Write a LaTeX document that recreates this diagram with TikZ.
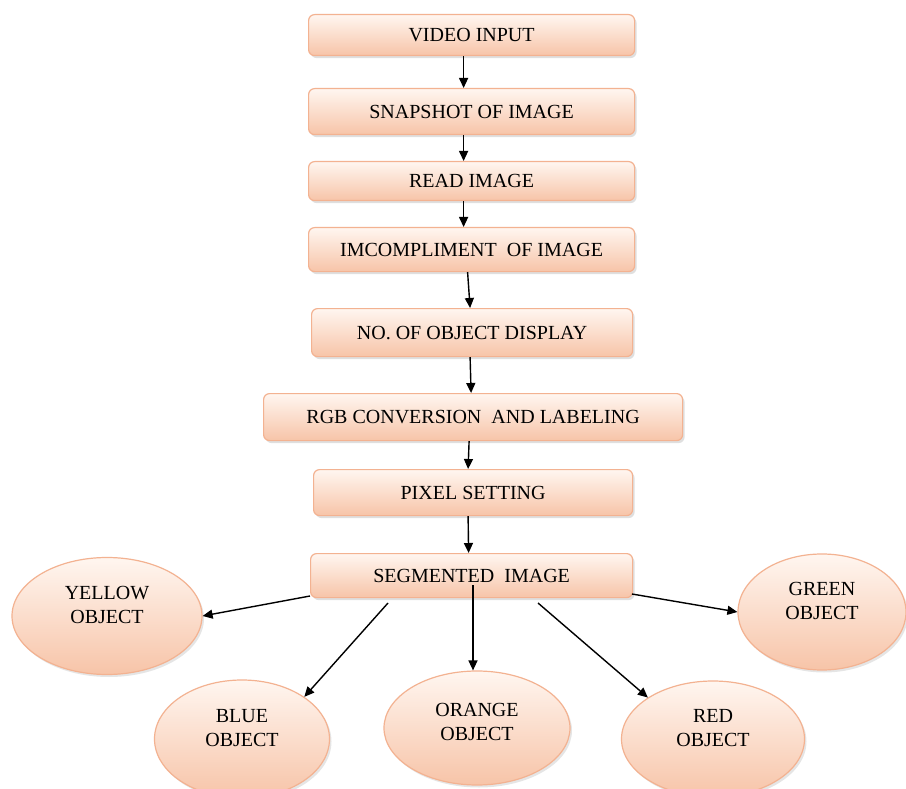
\documentclass[tikz,border=0pt]{standalone}
\usepackage{fontspec}
\setmainfont{Liberation Serif}
\usetikzlibrary{shapes.geometric,shadows,arrows.meta}
\definecolor{peachtop}{RGB}{255,246,240}
\definecolor{peachbot}{RGB}{247,196,168}
\definecolor{peachline}{RGB}{243,178,145}
\tikzset{
  stepbox/.style={draw=peachline, line width=1.2pt, rounded corners=6pt,
    top color=peachtop, bottom color=peachbot, anchor=north west,
    drop shadow={opacity=0.25, shadow xshift=2pt, shadow yshift=-2.5pt},
    inner sep=0pt, font=\fontsize{20}{22}\selectfont},
  objell/.style={ellipse, draw=peachline, line width=1.2pt,
    top color=peachtop, bottom color=peachbot,
    drop shadow={opacity=0.2, shadow xshift=2pt, shadow yshift=-2.5pt},
    inner sep=0pt},
  objtext/.style={align=center, inner sep=0pt, font=\fontsize{20}{24}\selectfont},
  arr/.style={-{Triangle[length=10pt,width=9pt]}, line width=1.4pt, black},
}
\begin{document}
\begin{tikzpicture}[x=1pt,y=1pt]
\useasboundingbox (0,0) rectangle (906,-789);
\fill[white] (0,0) rectangle (906,-789);
% boxes
\node[stepbox, minimum width=326pt, minimum height=41pt] (b1) at (308,-14) {VIDEO INPUT};
\node[stepbox, minimum width=326pt, minimum height=46pt] (b2) at (308,-88) {SNAPSHOT OF IMAGE};
\node[stepbox, minimum width=326pt, minimum height=39pt] (b3) at (308,-161) {READ IMAGE};
\node[stepbox, minimum width=326pt, minimum height=44pt] (b4) at (308,-227) {IMCOMPLIMENT\ \ OF IMAGE};
\node[stepbox, minimum width=321pt, minimum height=48pt] (b5) at (311,-308) {NO. OF OBJECT DISPLAY};
\node[stepbox, minimum width=419pt, minimum height=47pt] (b6) at (263,-393) {RGB CONVERSION\ \ AND LABELING};
\node[stepbox, minimum width=319pt, minimum height=46pt] (b7) at (313,-469) {PIXEL SETTING};
\node[stepbox, minimum width=322pt, minimum height=44pt] (b8) at (310,-553) {SEGMENTED\ \ IMAGE};
% ellipses
\node[objell, minimum width=190pt, minimum height=117pt] (ye) at (107,-616) {};
\node[objell, minimum width=175pt, minimum height=118pt] (bl) at (242,-739) {};
\node[objell, minimum width=186pt, minimum height=114pt] (or) at (477,-728) {};
\node[objell, minimum width=183pt, minimum height=116pt] (re) at (713,-739) {};
\node[objell, minimum width=168pt, minimum height=116pt] (gr) at (822,-612) {};
\node[objtext] (yet) at ([yshift=11pt]ye.center) {YELLOW\\OBJECT};
\node[objtext] (blt) at ([yshift=11pt]bl.center) {BLUE\\OBJECT};
\node[objtext] (ort) at ([yshift=6pt]or.center) {ORANGE\\OBJECT};
\node[objtext] (ret) at ([yshift=11pt]re.center) {RED\\OBJECT};
\node[objtext] (grt) at ([yshift=11pt]gr.center) {GREEN\\OBJECT};
% vertical arrows
\draw[arr] ([xshift=-8pt]b1.south) -- ([xshift=-8pt]b2.north);
\draw[arr] ([xshift=-8pt]b2.south) -- ([xshift=-8pt]b3.north);
\draw[arr] ([xshift=-8pt]b3.south) -- ([xshift=-8pt]b4.north);
\draw[arr] ([xshift=-4pt]b4.south) -- ([xshift=-2pt]b5.north);
\draw[arr] ([xshift=-2pt]b5.south) -- ([xshift=-2pt]b6.north);
\draw[arr] ([xshift=-4pt]b6.south) -- ([xshift=-5pt]b7.north);
\draw[arr] ([xshift=-5pt]b7.south) -- ([xshift=-3pt]b8.north);
% branch arrows
\coordinate (sy) at (310,-596);
\coordinate (sb) at (388,-603);
\coordinate (so) at (473,-585);
\coordinate (sr) at (538,-603);
\coordinate (sg) at (632,-594);
\draw[arr] (sy) -- (ye.east);
\draw[arr] (sb) -- (bl.north east);
\draw[arr] (so) -- (or.north -| so);
\draw[arr] (sr) -- (re.north west);
\draw[arr] (sg) -- (gr.west);
\end{tikzpicture}
\end{document}
